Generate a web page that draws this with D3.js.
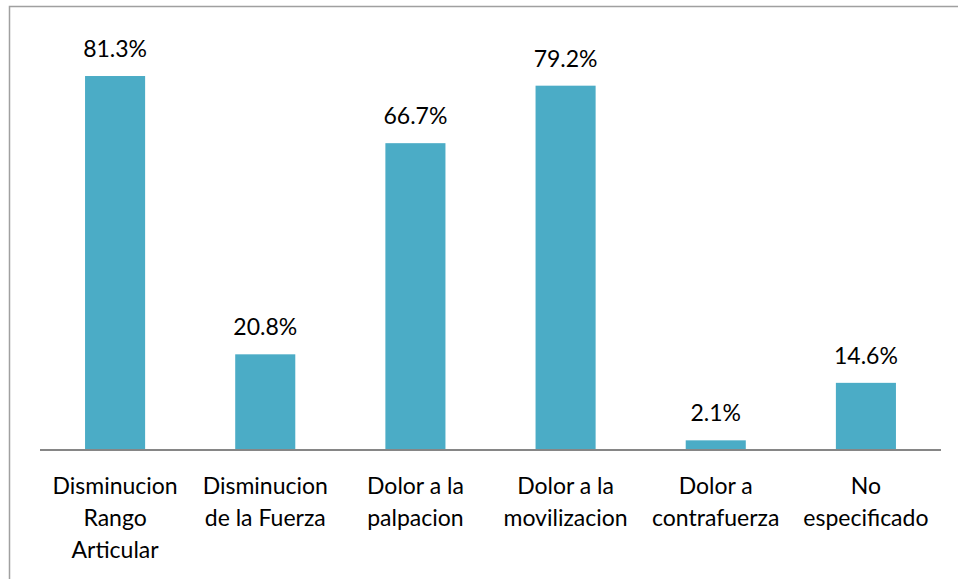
<!DOCTYPE html>
<html>
<head>
<meta charset="utf-8">
<script src="https://cdn.jsdelivr.net/npm/d3@7"></script>
<style>
  body { margin: 0; background: #fff; }
  svg { display: block; }
</style>
</head>
<body>
<div id="chart"></div>
<script>
var categories = [
  ["Disminucion", "Rango", "Articular"],
  ["Disminucion", "de la Fuerza"],
  ["Dolor a la", "palpacion"],
  ["Dolor a la", "movilizacion"],
  ["Dolor a", "contrafuerza"],
  ["No", "especificado"]
];
var values = [81.3, 20.8, 66.7, 79.2, 2.1, 14.6];
var labels = ["81.3%", "20.8%", "66.7%", "79.2%", "2.1%", "14.6%"];

var w = 958, h = 579;
var left = 40, right = 941, base = 450;

var svg = d3.select("#chart").append("svg").attr("width", w).attr("height", h);

// outer frame (only top and left edges visible)
svg.append("path")
  .attr("d", "M9.5," + h + "V6.5H" + w)
  .attr("fill", "none")
  .attr("stroke", "#a0a0a0")
  .attr("stroke-width", 1.5);

var x = d3.scaleBand()
  .domain(d3.range(values.length))
  .range([left, right])
  .paddingInner(0.6)
  .paddingOuter(0.3);

var y = d3.scaleLinear().domain([0, 90]).range([base, 36]);

svg.selectAll("rect.bar")
  .data(values)
  .enter()
  .append("rect")
  .attr("class", "bar")
  .attr("x", function (d, i) { return x(i); })
  .attr("width", x.bandwidth())
  .attr("y", function (d) { return y(d); })
  .attr("height", function (d) { return base - y(d); })
  .attr("fill", "#4bacc6");

svg.selectAll("text.val")
  .data(values)
  .enter()
  .append("text")
  .attr("class", "val")
  .text(function (d, i) { return labels[i]; })
  .attr("text-anchor", "middle")
  .attr("x", function (d, i) { return x(i) + x.bandwidth() / 2; })
  .attr("y", function (d) { return y(d) - 19; })
  .attr("font-family", "Lato, 'Open Sans', sans-serif")
  .attr("font-size", "23px")
  .attr("fill", "#000");

// baseline
svg.append("line")
  .attr("x1", left).attr("x2", right)
  .attr("y1", base).attr("y2", base)
  .attr("stroke", "#868686")
  .attr("stroke-width", 2);

var cat = svg.selectAll("text.cat")
  .data(categories)
  .enter()
  .append("text")
  .attr("class", "cat")
  .attr("text-anchor", "middle")
  .attr("font-family", "Lato, 'Open Sans', sans-serif")
  .attr("font-size", "23px")
  .attr("fill", "#000");

cat.selectAll("tspan")
  .data(function (d, i) { return d.map(function (s) { return { s: s, i: i }; }); })
  .enter()
  .append("tspan")
  .attr("x", function (d) { return x(d.i) + x.bandwidth() / 2; })
  .attr("y", function (d, j) { return 494 + j * 32; })
  .text(function (d) { return d.s; });
</script>
</body>
</html>
